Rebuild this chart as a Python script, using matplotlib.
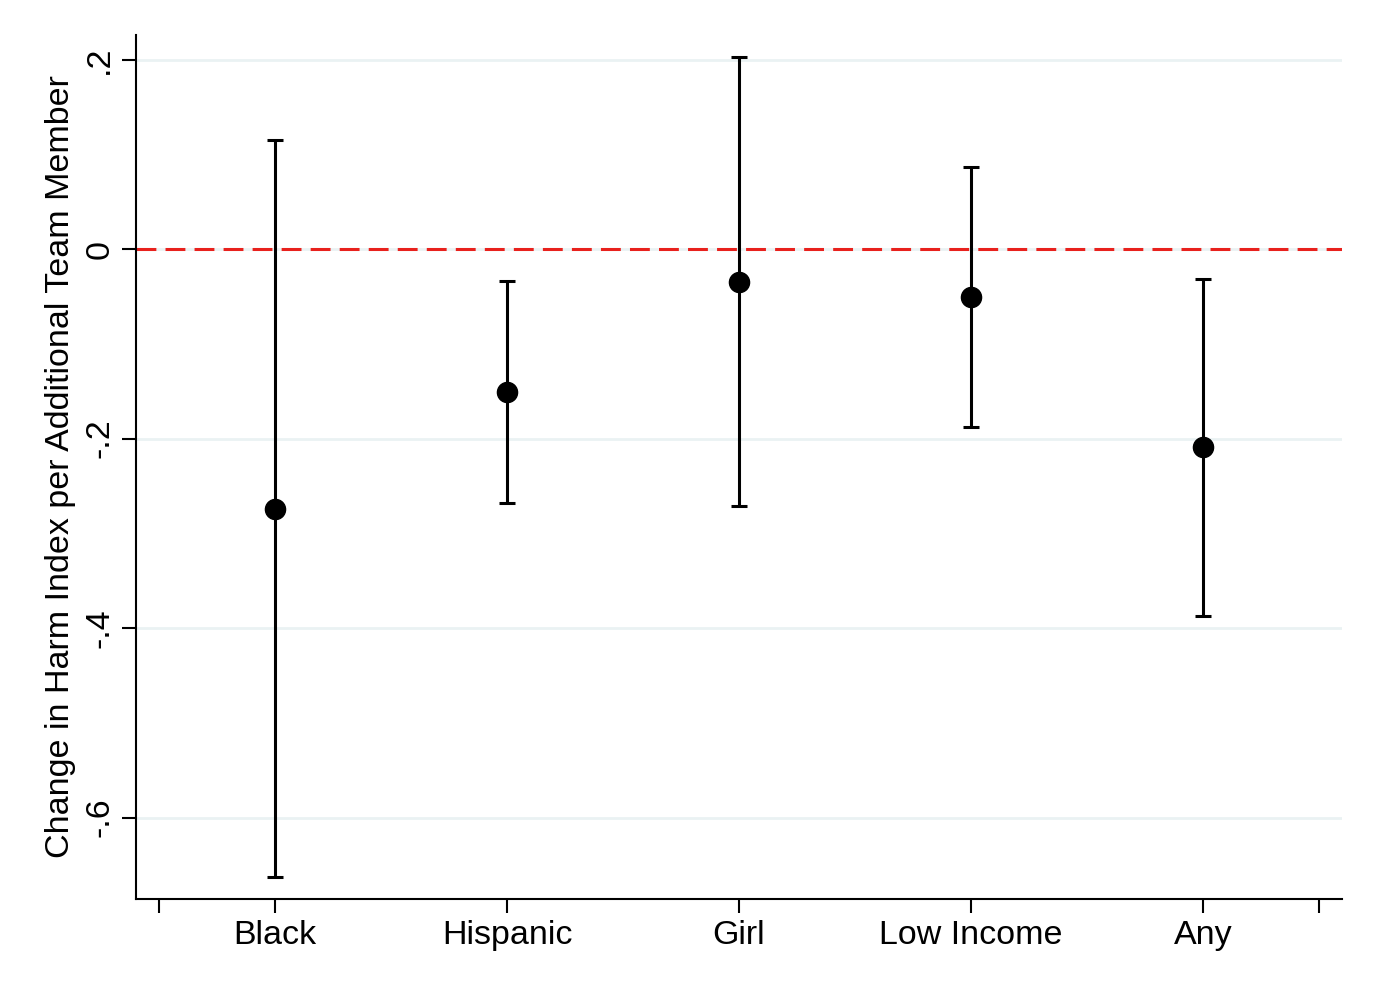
import numpy as np
import matplotlib
matplotlib.use('Agg')
import matplotlib.pyplot as plt

plt.rcParams['font.family'] = ['Liberation Sans', 'DejaVu Sans']

groups = ['Black', 'Hispanic', 'Girl', 'Low Income', 'Any']
estimates = [-0.274, -0.151, -0.035, -0.051, -0.209]
ci_low = [-0.663, -0.268, -0.271, -0.188, -0.387]
ci_high = [0.115, -0.034, 0.203, 0.0865, -0.032]
yticks = [0.2, 0, -0.2, -0.4, -0.6]
ytick_labels = ['.2', '0', '-.2', '-.4', '-.6']

x = np.arange(1, len(groups) + 1)
est = np.array(estimates)
err = np.vstack([est - np.array(ci_low), np.array(ci_high) - est])

fig = plt.figure(figsize=(13.78, 10.02), dpi=100)
ax = fig.add_axes([0.0987, 0.1028, 0.8752, 0.8622])

for yv in yticks:
    ax.axhline(yv, color='#eaf2f3', lw=2, zorder=0)
ax.axhline(0, color='#e8211d', lw=2.2, ls=(0, (6.5, 3)), zorder=1)

ax.errorbar(x, est, yerr=err, fmt='o', color='black', ms=14.5,
            elinewidth=2.2, capsize=6, capthick=2.2, zorder=3)

ax.set_xlim(0.4, 5.6)
ax.set_ylim(-0.686, 0.226)
ax.set_xticks(x)
ax.set_xticklabels(groups, fontsize=24.5)
ax.set_xticks([0.5, 5.5], minor=True)
ax.set_yticks(yticks)
ax.set_yticklabels(ytick_labels, fontsize=24.5, rotation=90, va='center')
ax.tick_params(axis='both', which='both', direction='out', length=10, width=1.5, colors='black')
ax.tick_params(axis='x', pad=5)
ax.tick_params(axis='y', pad=5)
ax.set_ylabel('Change in Harm Index per Additional Team Member', fontsize=24.5, labelpad=6)

for side in ['top', 'right']:
    ax.spines[side].set_visible(False)
for side in ['left', 'bottom']:
    ax.spines[side].set_linewidth(1.5)

fig.savefig('out.png', dpi=100)
